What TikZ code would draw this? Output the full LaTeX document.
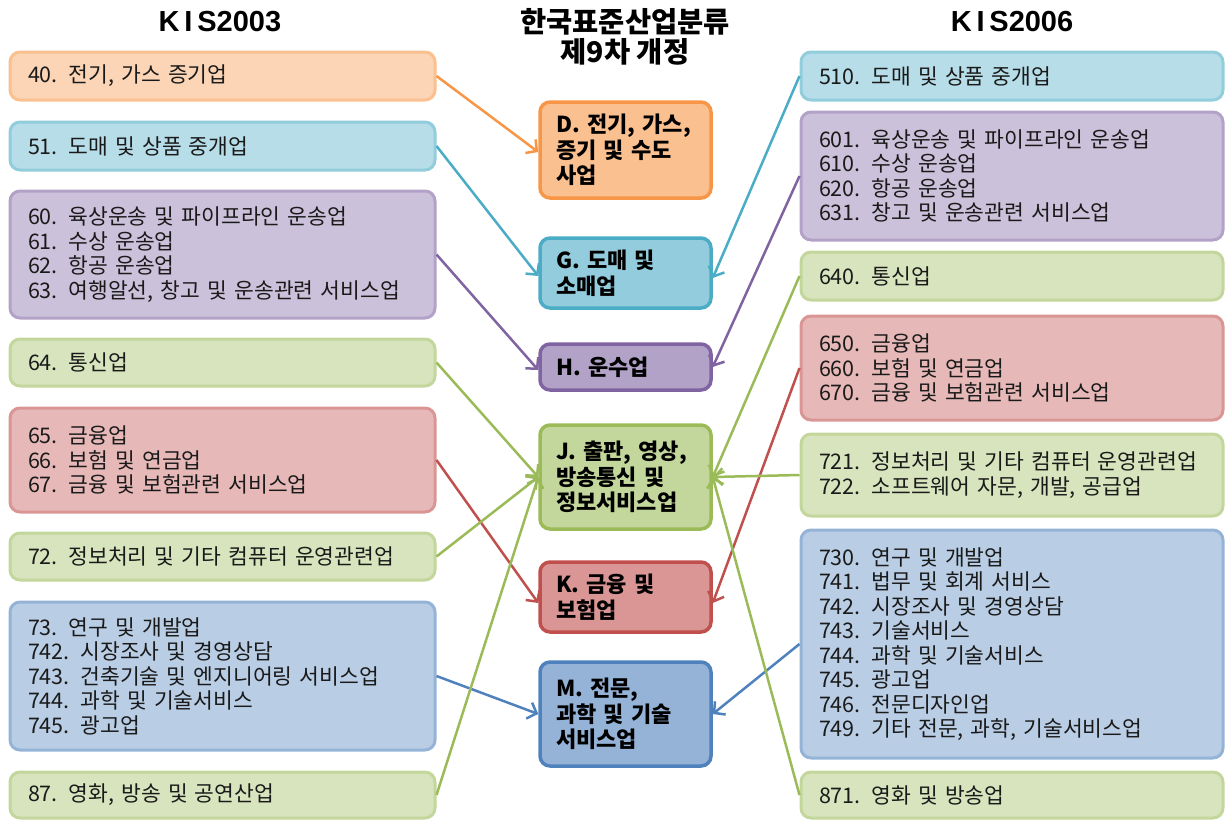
\documentclass[tikz,border=0pt]{standalone}
\usepackage{fontspec}
\setmainfont{Noto Sans CJK KR}
\newfontfamily\hdfont{Liberation Sans}
\usetikzlibrary{arrows.meta}
\definecolor{orF}{HTML}{FBD5B5}\definecolor{orB}{HTML}{FAC090}\definecolor{orD}{HTML}{F79646}
\definecolor{blF}{HTML}{B7DDE8}\definecolor{blB}{HTML}{92CDDC}\definecolor{blC}{HTML}{93CDDD}\definecolor{blD}{HTML}{4BACC6}
\definecolor{puF}{HTML}{CCC1DA}\definecolor{puB}{HTML}{B3A2C7}\definecolor{puD}{HTML}{8064A2}
\definecolor{grF}{HTML}{D7E4BD}\definecolor{grB}{HTML}{C3D69B}\definecolor{grD}{HTML}{9BBB59}
\definecolor{reF}{HTML}{E6B9B8}\definecolor{reB}{HTML}{D99694}\definecolor{reD}{HTML}{C0504D}
\definecolor{stF}{HTML}{B9CDE5}\definecolor{stB}{HTML}{95B3D7}\definecolor{stD}{HTML}{4F81BD}
\definecolor{txt}{HTML}{1A1A1A}
\begin{document}
\begin{tikzpicture}[x=1pt,y=-1pt,
  sidebox/.style={draw, rounded corners=10pt, line width=3pt, inner xsep=18pt, inner ysep=0pt,
    text width=389pt, minimum width=425pt, align=left, text=txt,
    font=\fontsize{21.5pt}{24.5pt}\selectfont},
  rsidebox/.style={sidebox, text width=386pt, minimum width=422pt},
  midbox/.style={draw, rounded corners=10pt, line width=3.5pt, inner xsep=16pt, inner ysep=0pt,
    text width=139pt, minimum width=171pt, align=left, text=black,
    font=\bfseries\fontsize{22pt}{25.5pt}\selectfont},
  con/.style={line width=2.5pt, -{Straight Barb[length=8pt,width=17pt]}},
  hd/.style={font=\hdfont\bfseries\fontsize{29pt}{30pt}\selectfont},
]
\useasboundingbox (0,0) rectangle (1226,820);
% headers
\node[hd] (h1) at (220,22) {K\,I\,S2003};
\node[hd] (h3) at (1012,22) {K\,I\,S2006};
\node[font=\bfseries\fontsize{28.5pt}{30pt}\selectfont, align=center] (h2) at (625,37) {한국표준산업분류\\제9차 개정};
% left boxes
\node[sidebox, fill=orF, draw=orB, minimum height=48pt] (L1) at (222.5,76) {40. 전기, 가스 증기업};
\node[sidebox, fill=blF, draw=blB, minimum height=48pt] (L2) at (222.5,146) {51. 도매 및 상품 중개업};
\node[sidebox, fill=puF, draw=puB, minimum height=127pt] (L3) at (222.5,254.5) {60. 육상운송 및 파이프라인 운송업\\61. 수상 운송업\\62. 항공 운송업\\63. 여행알선, 창고 및 운송관련 서비스업};
\node[sidebox, fill=grF, draw=grB, minimum height=47pt] (L4) at (222.5,362.5) {64. 통신업};
\node[sidebox, fill=reF, draw=reB, minimum height=104pt] (L5) at (222.5,460) {65. 금융업\\66. 보험 및 연금업\\67. 금융 및 보험관련 서비스업};
\node[sidebox, fill=grF, draw=grB, minimum height=47pt] (L6) at (222.5,556.5) {72. 정보처리 및 기타 컴퓨터 운영관련업};
\node[sidebox, fill=stF, draw=stB, minimum height=148pt] (L7) at (222.5,676) {73. 연구 및 개발업\\742. 시장조사 및 경영상담\\743. 건축기술 및 엔지니어링 서비스업\\744. 과학 및 기술서비스\\745. 광고업};
\node[sidebox, fill=grF, draw=grB, minimum height=46pt] (L8) at (222.5,795) {87. 영화, 방송 및 공연산업};
% right boxes
\node[rsidebox, fill=blF, draw=blB, minimum height=48pt] (R1) at (1012,76) {510. 도매 및 상품 중개업};
\node[rsidebox, fill=puF, draw=puB, minimum height=128pt] (R2) at (1012,176) {601. 육상운송 및 파이프라인 운송업\\610. 수상 운송업\\620. 항공 운송업\\631. 창고 및 운송관련 서비스업};
\node[rsidebox, fill=grF, draw=grB, minimum height=48pt] (R3) at (1012,276) {640. 통신업};
\node[rsidebox, fill=reF, draw=reB, minimum height=104pt] (R4) at (1012,368) {650. 금융업\\660. 보험 및 연금업\\670. 금융 및 보험관련 서비스업};
\node[rsidebox, fill=grF, draw=grB, minimum height=82pt] (R5) at (1012,475) {721. 정보처리 및 기타 컴퓨터 운영관련업\\722. 소프트웨어 자문, 개발, 공급업};
\node[rsidebox, fill=stF, draw=stB, minimum height=228pt] (R6) at (1012,644) {730. 연구 및 개발업\\741. 법무 및 회계 서비스\\742. 시장조사 및 경영상담\\743. 기술서비스\\744. 과학 및 기술서비스\\745. 광고업\\746. 전문디자인업\\749. 기타 전문, 과학, 기술서비스업};
\node[rsidebox, fill=grF, draw=grB, minimum height=46pt] (R7) at (1012,795) {871. 영화 및 방송업};
% middle boxes
\node[midbox, fill=orB, draw=orD, minimum height=96pt] (D) at (625.5,150) {D. 전기, 가스,\\증기 및 수도\\사업};
\node[midbox, fill=blC, draw=blD, minimum height=70pt] (G) at (625.5,273) {G. 도매 및\\소매업};
\node[midbox, fill=puB, draw=puD, minimum height=46pt] (H) at (625.5,367) {H. 운수업};
\node[midbox, fill=grB, draw=grD, minimum height=104pt] (J) at (625.5,477) {J. 출판, 영상,\\방송통신 및\\정보서비스업};
\node[midbox, fill=reB, draw=reD, minimum height=70pt] (K) at (625.5,597) {K. 금융 및\\보험업};
\node[midbox, fill=stB, draw=stD, minimum height=104pt] (M) at (625.5,714) {M. 전문,\\과학 및 기술\\서비스업};
% connectors
\draw[con, orD] (L1.east) -- ([yshift=-2pt]D.west);
\draw[con, blD] (L2.east) -- ([yshift=-3pt]G.west);
\draw[con, puD] (L3.east) -- ([yshift=-3pt]H.west);
\draw[con, grD] (L4.east) -- (J.west);
\draw[con, reD] (L5.east) -- ([yshift=-6pt]K.west);
\draw[con, grD] (L6.east) -- (J.west);
\draw[con, stD] (L7.east) -- (M.west);
\draw[con, grD] (L8.east) -- (J.west);
\draw[con, blD] (R1.west) -- ([yshift=-5pt]G.east);
\draw[con, puD] (R2.west) -- (H.east);
\draw[con, grD] (R3.west) -- (J.east);
\draw[con, reD] (R4.west) -- ([yshift=-6pt]K.east);
\draw[con, grD] (R5.west) -- (J.east);
\draw[con, stD] (R6.west) -- (M.east);
\draw[con, grD] (R7.west) -- (J.east);
\end{tikzpicture}
\end{document}
